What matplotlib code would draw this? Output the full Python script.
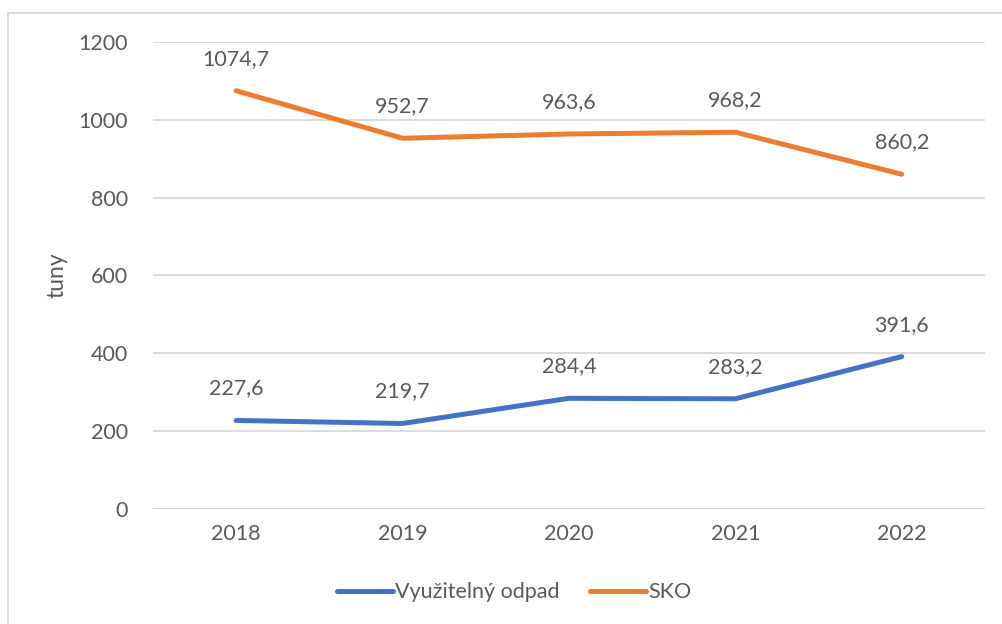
import matplotlib
matplotlib.use("Agg")
import matplotlib.pyplot as plt

roky = ["2018", "2019", "2020", "2021", "2022"]
vyuzitelny = [227.6, 219.7, 284.4, 283.2, 391.6]
sko = [1074.7, 952.7, 963.6, 968.2, 860.2]

plt.rcParams['font.family'] = ['Lato', 'DejaVu Sans']
seda = "#595959"

fig = plt.figure(figsize=(10.03, 6.24), dpi=100)
ax = fig.add_axes([0.1525, 0.1843, 0.8295, 0.7484])

x = range(len(roky))
ax.plot(x, vyuzitelny, color="#4472C4", lw=3.6, solid_capstyle="round", label="Využitelný odpad")
ax.plot(x, sko, color="#ED7D31", lw=3.6, solid_capstyle="round", label="SKO")

for serie in (vyuzitelny, sko):
    for i, v in enumerate(serie):
        ax.annotate(f"{v:.1f}".replace(".", ","), (i, v), xytext=(0, 23),
                    textcoords="offset points", ha="center", va="center",
                    fontsize=15.5, color=seda)

ax.set_xlim(-0.5, 4.5)
ax.set_ylim(0, 1200)
ax.set_yticks(range(0, 1201, 200))
ax.set_xticks(list(x))
ax.set_xticklabels(roky)
ax.grid(axis="y", color="#d9d9d9", lw=1.3)
ax.set_axisbelow(True)
for s in ax.spines.values():
    s.set_visible(False)
ax.tick_params(length=0, labelsize=15.5, labelcolor=seda, pad=11)
ax.tick_params(axis="y", pad=18)
ax.set_ylabel("tuny", fontsize=16.5, color=seda, labelpad=8)

ax.legend(loc="center", bbox_to_anchor=(0.434, -0.178), ncol=2, frameon=False,
          fontsize=15.5, labelcolor=seda, handlelength=2.6, handletextpad=0.1,
          columnspacing=1.4)

# ramecek
fig.add_artist(plt.Line2D([0.008, 0.008], [0, 0.979], color="#d9d9d9", lw=1.3))
fig.add_artist(plt.Line2D([0.008, 1], [0.979, 0.979], color="#d9d9d9", lw=1.3))

fig.savefig("out.png", dpi=100)
